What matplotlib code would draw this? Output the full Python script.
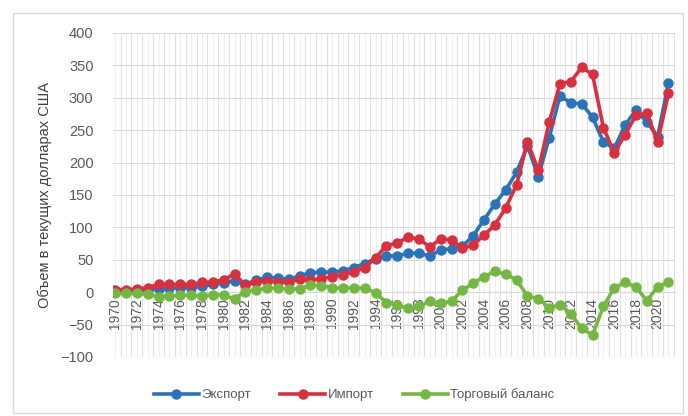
import matplotlib
matplotlib.use("Agg")
import matplotlib.pyplot as plt
from matplotlib.patches import Rectangle

plt.rcParams['font.family'] = ['Liberation Sans', 'DejaVu Sans']

years = list(range(1970, 2022))
export = [2, 2, 3, 4, 5, 6, 7, 7, 9, 12,
          14, 18, 12, 19, 23, 22, 20, 25, 30, 31,
          31, 33, 38, 44, 52, 56, 56, 60, 60, 56,
          65, 67, 71, 87, 112, 136, 158, 185, 226, 178,
          238, 303, 292, 291, 270, 232, 222, 258, 281, 263,
          240, 323]
imports = [4, 4, 5, 7, 12, 12, 12, 12, 15, 16,
           19, 28, 11, 15, 17, 16, 15, 20, 19, 21,
           24, 27, 31, 38, 53, 72, 76, 85, 82, 70,
           82, 81, 68, 73, 88, 104, 130, 166, 232, 188,
           262, 322, 325, 347, 336, 254, 215, 243, 273, 276,
           232, 307]
balance = [-2, -2, -2, -3, -7, -6, -5, -5, -6, -4,
           -5, -10, 1, 4, 6, 6, 5, 5, 11, 10,
           7, 6, 7, 6, -1, -16, -20, -25, -22, -14,
           -17, -14, 3, 14, 24, 32, 28, 19, -6, -10,
           -24, -19, -33, -56, -66, -22, 7, 15, 8, -13,
           8, 16]
labels = ['Экспорт', 'Импорт', 'Торговый баланс']
colors = ['#2a73b8', '#d7303e', '#74b843']

fig = plt.figure(figsize=(6.88, 4.16), dpi=100)
fig.patches.append(Rectangle((13 / 688, 3 / 416), 670 / 688, 400 / 416,
                             transform=fig.transFigure, fill=False,
                             edgecolor='#d9d9d9', linewidth=1))
ax = fig.add_axes([113 / 688, 1 - 357 / 416, 562 / 688, 324 / 416])

for series, lab, col in zip([export, imports, balance], labels, colors):
    ax.plot(years, series, color=col, linewidth=2.6, marker='o',
            markersize=6.5, label=lab, zorder=3)

ax.set_ylim(-100, 400)
ax.set_xlim(1969.8, 2021.6)

# x axis crosses at zero, category labels hang below it
ax.spines['bottom'].set_position(('data', 0))
ax.spines['bottom'].set_color('#d9d9d9')
for s in ['top', 'right', 'left']:
    ax.spines[s].set_visible(False)

ax.set_yticks(range(-100, 401, 50))
ax.tick_params(axis='y', length=0, labelsize=10.5, labelcolor='#595959', pad=14)

ax.set_xticks(years[::2])
ax.set_xticklabels([str(y) for y in years[::2]], rotation=90,
                   fontsize=10, color='#595959')
ax.tick_params(axis='x', length=0, pad=4)

# vertical grid: every half year, horizontal grid every 50
for x in [y - 0.5 for y in years] + [years[-1] + 0.5]:
    ax.axvline(x, color='#e0e0e0', linewidth=0.8, zorder=0)
for y in years:
    ax.axvline(y, color='#ececec', linewidth=0.6, zorder=0)
ax.yaxis.grid(True, color='#d9d9d9', linewidth=0.8)
ax.set_axisbelow(True)

ax.set_ylabel('Объем в текущих долларах США', fontsize=10.5, color='#404040',
              labelpad=6)

fig.legend(loc='center', bbox_to_anchor=(0.515, 1 - 395 / 416), ncol=3,
           frameon=False, fontsize=9.5, handlelength=3.4, columnspacing=2.2,
           handletextpad=0.2, labelcolor='#595959')

fig.savefig('out.png', dpi=100)
